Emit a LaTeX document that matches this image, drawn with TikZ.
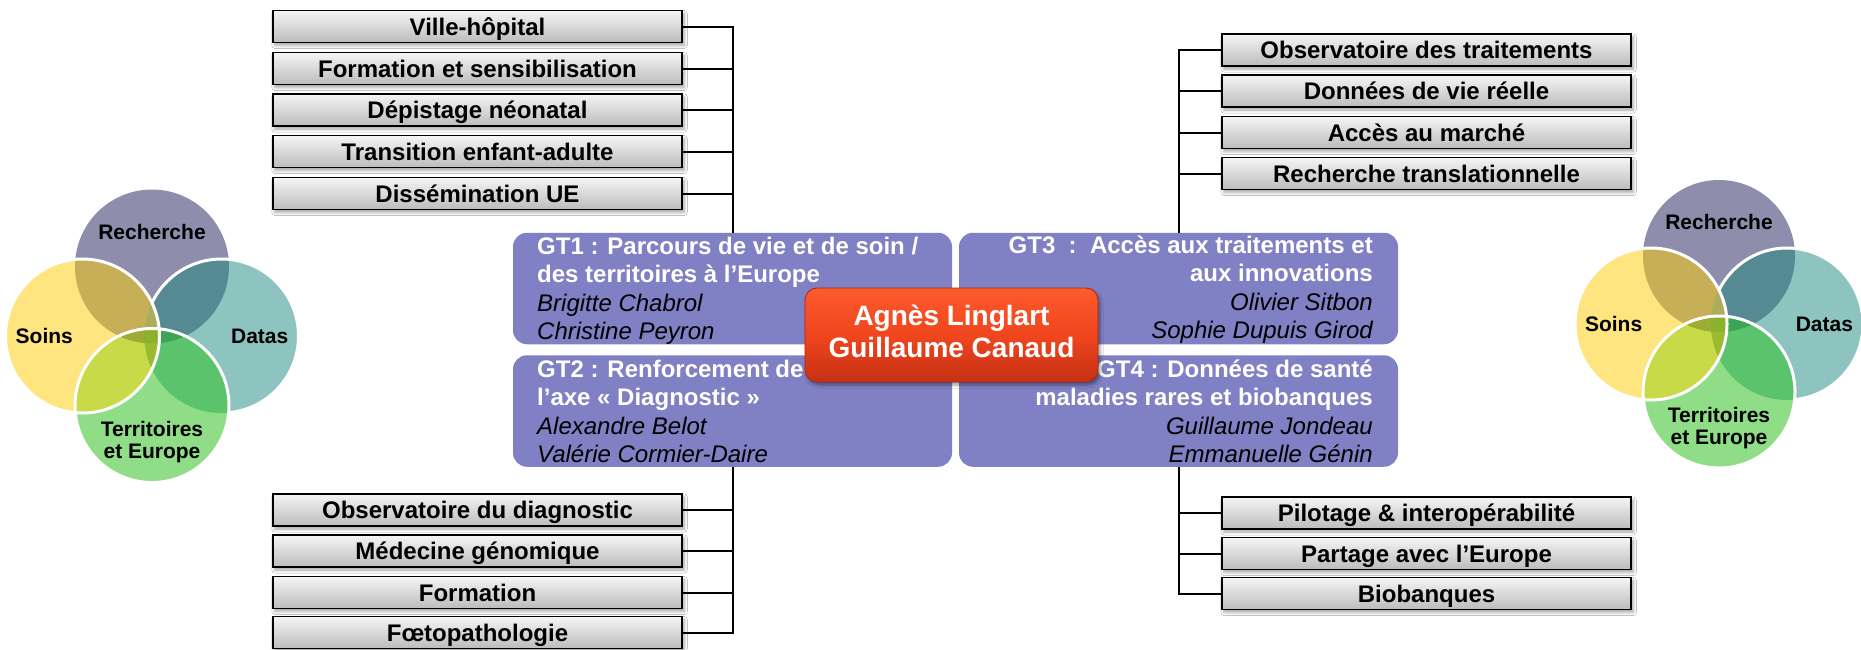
\documentclass[tikz,border=0pt]{standalone}
\usepackage{fontspec}
\setmainfont{Liberation Sans}
\usetikzlibrary{shadows,shadows.blur}

\definecolor{gtcol}{RGB}{128,128,196}
\definecolor{gtop}{RGB}{245,245,245}
\definecolor{gbot}{RGB}{188,188,188}
\definecolor{otop}{RGB}{252,90,44}
\definecolor{omid}{RGB}{240,70,30}
\definecolor{obot}{RGB}{198,48,20}
\definecolor{vP}{RGB}{143,141,172}
\definecolor{vT}{RGB}{142,196,192}
\definecolor{vY}{RGB}{254,229,128}
\definecolor{vG}{RGB}{144,221,136}
\definecolor{vPT}{RGB}{86,138,147}
\definecolor{vPY}{RGB}{198,175,86}
\definecolor{vYG}{RGB}{200,218,71}
\definecolor{vTG}{RGB}{91,195,108}
\definecolor{vPYT}{RGB}{170,174,90}
\definecolor{vPYG}{RGB}{156,172,52}
\definecolor{vPTG}{RGB}{61,163,86}
\definecolor{vYTG}{RGB}{155,186,45}
\definecolor{vAll}{RGB}{140,178,45}

\newcommand{\gtt}[1]{{\color{white}\bfseries #1}}
\newcommand{\gtn}[1]{{\color{black}\itshape #1}}

\tikzset{
  conn/.style={draw=black, line width=2pt},
  gbox/.style={draw=black, line width=1.6pt, top color=gtop, bottom color=gbot,
    minimum width=409.5pt, minimum height=32pt, inner sep=0pt,
    text height=17.5pt, text depth=0pt,
    font=\fontsize{24}{28}\selectfont\bfseries,
    blur shadow={shadow xshift=2pt, shadow yshift=-3pt, shadow blur radius=3pt, shadow opacity=35}},
  gtbox/.style={fill=gtcol, rounded corners=14pt, minimum width=439pt, minimum height=111.5pt, inner sep=0pt},
  gttext/.style={inner sep=0pt, font=\fontsize{24}{28.6}\selectfont},
  ctrbox/.style={rounded corners=12pt, top color=otop, bottom color=obot, middle color=omid,
    draw=obot!85!black, line width=0.8pt, minimum width=293pt, minimum height=94pt,
    inner sep=0pt, text=white, font=\fontsize{28}{32}\selectfont\bfseries,
    blur shadow={shadow xshift=2pt, shadow yshift=-3pt, shadow blur radius=3pt, shadow opacity=40}},
  vline/.style={draw=white, line width=3pt},
  vlab/.style={inner sep=0pt, text=black, font=\fontsize{21}{22}\selectfont\bfseries}
}

\newcommand{\drawvenn}[5]{%
\begin{scope}[shift={(#1,#2)}]
\def\cP{(0,-#3) circle[radius=#4pt]}%
\def\cT{(#3,0) circle[radius=#4pt]}%
\def\cY{(-#3,0) circle[radius=#4pt]}%
\def\cG{(0,#3) circle[radius=#4pt]}%
\fill[vP] \cP;
\fill[vT] \cT;
\begin{scope}\clip \cP; \fill[vPT] \cT; \end{scope}
\draw[vline] \cT;
\fill[vY] \cY;
\begin{scope}\clip \cP; \fill[vPY] \cY; \end{scope}
\begin{scope}\clip \cP; \clip \cT; \fill[vPYT] \cY; \end{scope}
\fill[vG] \cG;
\begin{scope}\clip \cY; \fill[vYG] \cG; \end{scope}
\begin{scope}\clip \cT; \fill[vTG] \cG; \end{scope}
\begin{scope}\clip \cP; \clip \cY; \fill[vPYG] \cG; \end{scope}
\begin{scope}\clip \cP; \clip \cT; \fill[vPTG] \cG; \end{scope}
\begin{scope}\clip \cY; \clip \cT; \fill[vYTG] \cG; \end{scope}
\begin{scope}\clip \cP; \clip \cY; \clip \cT; \fill[vAll] \cG; \end{scope}
\draw[vline] \cY;
\draw[vline] \cG;
\node[vlab] (#5rec) at (0,{-1.5*#3}) {Recherche};
\node[vlab] (#5soi) at ({-1.55*#3},0) {Soins};
\node[vlab] (#5dat) at ({1.55*#3},0) {Datas};
\node[vlab] (#5ter) at (0,{1.5*#3+3}) {\begin{tabular}{@{}c@{}}Territoires\\et Europe\end{tabular}};
\end{scope}}

\begin{document}
\begin{tikzpicture}[x=1pt,y=-1pt]
\useasboundingbox (0,0) rectangle (1861,649);
\fill[white] (0,0) rectangle (1861,649);

% Venn diagrams
\drawvenn{152}{336}{69.5}{77}{L}
\drawvenn{1719}{324}{68}{76}{R}

% GT boxes
\node[gtbox] (gt1) at (732.5,288.5) {};
\node[gtbox] (gt2) at (732.5,411) {};
\node[gtbox] (gt3) at (1178.5,288.5) {};
\node[gtbox] (gt4) at (1178.5,411) {};

\node[gttext, anchor=base west] (gt1t) at (537,254) {\begin{tabular}[t]{@{}l@{}}\gtt{GT1 : Parcours de vie et de soin /}\\ \gtt{des territoires à l’Europe}\\ \gtn{Brigitte Chabrol}\\ \gtn{Christine Peyron}\end{tabular}};
\node[gttext, anchor=base west] (gt2t) at (537,377) {\begin{tabular}[t]{@{}l@{}}\gtt{GT2 : Renforcement de}\\ \gtt{l’axe « Diagnostic »}\\ \gtn{Alexandre Belot}\\ \gtn{Valérie Cormier-Daire}\end{tabular}};
\node[gttext, anchor=base east] (gt3t) at (1373,253) {\begin{tabular}[t]{@{}r@{}}\gtt{GT3\ \ :\ \ Accès aux traitements et}\\ \gtt{aux innovations}\\ \gtn{Olivier Sitbon}\\ \gtn{Sophie Dupuis Girod}\end{tabular}};
\node[gttext, anchor=base east] (gt4t) at (1373,377) {\begin{tabular}[t]{@{}r@{}}\gtt{GT4 : Données de santé}\\ \gtt{maladies rares et biobanques}\\ \gtn{Guillaume Jondeau}\\ \gtn{Emmanuelle Génin}\end{tabular}};

% Gray boxes
\node[gbox] (l1) at (477.5,26.5) {Ville-hôpital};
\node[gbox] (l2) at (477.5,68.5) {Formation et sensibilisation};
\node[gbox] (l3) at (477.5,110) {Dépistage néonatal};
\node[gbox] (l4) at (477.5,151.5) {Transition enfant-adulte};
\node[gbox] (l5) at (477.5,193.5) {Dissémination UE};

\node[gbox] (r1) at (1426.5,50) {Observatoire des traitements};
\node[gbox] (r2) at (1426.5,91) {Données de vie réelle};
\node[gbox] (r3) at (1426.5,132.5) {Accès au marché};
\node[gbox] (r4) at (1426.5,173.5) {Recherche translationnelle};

\node[gbox] (b1) at (477.5,510) {Observatoire du diagnostic};
\node[gbox] (b2) at (477.5,551) {Médecine génomique};
\node[gbox] (b3) at (477.5,592.5) {Formation};
\node[gbox] (b4) at (477.5,632.5) {Fœtopathologie};

\node[gbox] (s1) at (1426.5,513) {Pilotage \& interopérabilité};
\node[gbox] (s2) at (1426.5,553.5) {Partage avec l’Europe};
\node[gbox] (s3) at (1426.5,593.5) {Biobanques};

% Connectors
\foreach \n in {l1,l2,l3,l4,l5} \draw[conn] (\n.east) -| (gt1.north);
\foreach \n in {r1,r2,r3,r4} \draw[conn] (\n.west) -| (gt3.north);
\foreach \n in {b1,b2,b3,b4} \draw[conn] (\n.east) -| (gt2.south);
\foreach \n in {s1,s2,s3} \draw[conn] (\n.west) -| (gt4.south);

% Centre
\node[ctrbox] (ctr) at (951.5,335) {\begin{tabular}{@{}c@{}}Agnès Linglart\\Guillaume Canaud\end{tabular}};
\end{tikzpicture}
\end{document}
